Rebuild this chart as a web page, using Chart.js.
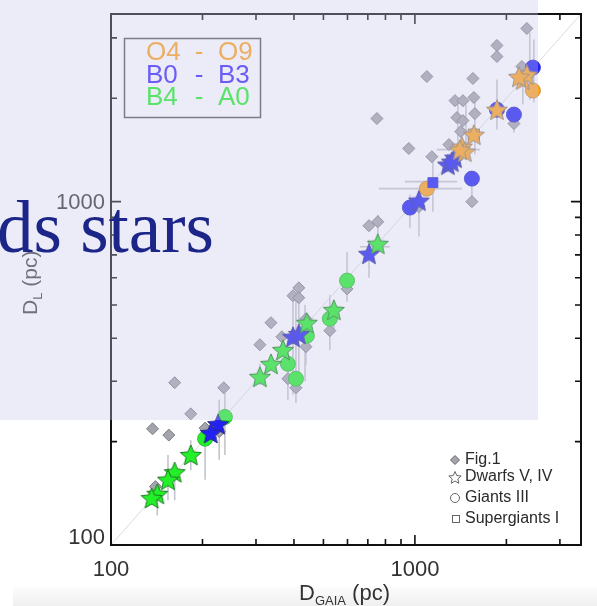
<!DOCTYPE html>
<html>
<head>
<meta charset="utf-8">
<script src="https://cdn.jsdelivr.net/npm/chart.js@4.4.1/dist/chart.umd.min.js"></script>
<style>
  html, body { margin: 0; padding: 0; background: #fff; }
  #wrap { position: relative; width: 597px; height: 606px; overflow: hidden; }
  #band { position: absolute; left: 13px; top: 586px; width: 584px; height: 20px; background: linear-gradient(#fdfdfd, #efefef); }
  #chart { position: absolute; left: 0; top: 0; }
  #veil { position: absolute; left: 0; top: 0; width: 538px; height: 420px; background: rgba(198, 198, 234, 0.34); }
  #headline { position: absolute; left: -3px; top: 191px; font: 73px "Liberation Serif", "DejaVu Serif", serif; line-height: 73px; color: #1c2588; white-space: nowrap; }
</style>
</head>
<body>
<div id="wrap">
  <div id="band"></div>
  <canvas id="chart" width="597" height="606"></canvas>
  <div id="veil"></div>
  <div id="headline">ds stars</div>
</div>
<script>
// axis range (pc) and ticks
const axisRange = [100, 3520];
const majorTicks = [100, 1000];
const minorTicks = [200, 300, 400, 500, 600, 700, 800, 900, 2000, 3000];

// [D_GAIA, D_L] pairs
const fig1 = [
    [2335, 3194], [1862, 2850], [1862, 2647], [1095, 2314], [1552, 2284], [2249, 2475],
    [750, 1746], [1355, 1969], [1439, 1969], [1563, 2011], [2118, 1688], [1375, 1757],
    [1439, 1722], [1575, 1805], [1416, 1600], [1294, 1466], [955, 1428], [1137, 1352],
    [1540, 1000], [1031, 967], [706, 851], [755, 874], [598, 557], [525, 421],
    [415, 561], [397, 532], [415, 525], [336, 444], [438, 456], [365, 404], [309, 383],
    [438, 378], [382, 305], [406, 287], [162, 297], [183, 241], [235, 287], [227, 214],
    [137, 218], [155, 209], [204, 219], [140, 148]
];
const orangeStars = [[2265, 2268], [2335, 2346], [2200, 2310], [1862, 1853], [1563, 1567], [1428, 1446], [1460, 1399], [1406, 1418]];
const orangeCircles = [[2444, 2107], [1095, 1091]];
const orangeSquares = [[1563, 1567]];
const blueStars = [[1284, 1282], [1355, 1344], [1323, 1308], [1031, 1007], [706, 705], [397, 404], [415, 412], [225, 225], [213, 212]];
const blueCircles = [[2444, 2458], [1862, 1853], [2118, 1793], [1540, 1167], [963, 961]];
const blueSquares = [[1146, 1136]];
const greenStars = [[755, 754], [541, 484], [441, 444], [368, 370], [336, 337], [309, 309], [183, 183], [162, 163], [154, 155], [142, 141], [136, 137]];
const greenCircles = [[598, 589], [525, 456], [441, 407], [382, 337], [406, 305], [237, 236], [204, 204]];

// error bars: vertical [x, lo, hi], horizontal [y, lo, hi]
const errY = [
    [2388, 1983, 3110], [2463, 1944, 2967], [2265, 1918, 2475], [1862, 1622, 2268], [2118, 1589, 1793],
    [1385, 1418, 1983], [1472, 1325, 1918], [1575, 1371, 2051],
    [1146, 935, 1325], [1031, 791, 1084], [963, 840, 1048], [1540, 980, 1167],
    [706, 600, 775], [755, 724, 916], [598, 511, 715], [525, 370, 535], [541, 423, 518],
    [397, 274, 518], [406, 259, 543], [415, 300, 560], [435, 300, 500], [438, 335, 453], [382, 265, 370], [309, 293, 337],
    [237, 183, 277], [227, 177, 265], [204, 155, 216], [162, 135, 165], [154, 135, 183], [142, 122, 150], [183, 165, 202]
];
const errX = [[1144, 927, 1375], [1091, 761, 1428], [1418, 1181, 1636], [739, 659, 827]];

const classRows = [["O4", "O9"], ["B0", "B3"], ["B4", "A0"]];
const typeLabels = ["Fig.1", "Dwarfs V, IV", "Giants III", "Supergiants I"];

const ORANGE = "#ffa31c";
const BLUE = "#2222f4";
const GREEN = "#22f028";

function toXY(list) {
    return list.map(p => ({ x: p[0], y: p[1] }));
}

function traceStar(g, cx, cy, r, ri) {
    g.beginPath();
    for (let i = 0; i < 10; i++) {
        const rad = i % 2 === 0 ? r : ri;
        const a = -Math.PI / 2 + i * Math.PI / 5;
        const px = cx + Math.cos(a) * rad;
        const py = cy + Math.sin(a) * rad;
        if (i === 0) g.moveTo(px, py); else g.lineTo(px, py);
    }
    g.closePath();
}

function starImage(r, fill, stroke) {
    const c = document.createElement("canvas");
    const s = Math.ceil(2 * r + 4);
    c.width = s; c.height = s;
    const g = c.getContext("2d");
    traceStar(g, s / 2, s / 2 + 1, r, r * 0.45);
    g.fillStyle = fill;
    g.fill();
    g.lineWidth = 1;
    g.strokeStyle = stroke;
    g.stroke();
    return c;
}

const frameAxes = {
    id: "frameAxes",
    beforeDatasetsDraw(chart) {
        const { ctx, scales: { x, y } } = chart;
        ctx.save();
        ctx.strokeStyle = "#c4c4cc";
        ctx.lineWidth = 1.6;
        errY.forEach(e => {
            const px = x.getPixelForValue(e[0]);
            ctx.beginPath();
            ctx.moveTo(px, y.getPixelForValue(e[1]));
            ctx.lineTo(px, y.getPixelForValue(e[2]));
            ctx.stroke();
        });
        errX.forEach(e => {
            const py = y.getPixelForValue(e[0]);
            ctx.beginPath();
            ctx.moveTo(x.getPixelForValue(e[1]), py);
            ctx.lineTo(x.getPixelForValue(e[2]), py);
            ctx.stroke();
        });
        ctx.restore();
    },
    afterDraw(chart) {
        const { ctx, chartArea: a, scales: { x, y } } = chart;
        ctx.save();
        ctx.strokeStyle = "#111";
        ctx.lineWidth = 2;
        ctx.strokeRect(a.left, a.top, a.right - a.left, a.bottom - a.top);

        ctx.lineWidth = 1.6;
        const tick = (v, len) => {
            const px = x.getPixelForValue(v);
            const py = y.getPixelForValue(v);
            ctx.beginPath();
            ctx.moveTo(px, a.bottom); ctx.lineTo(px, a.bottom - len);
            ctx.moveTo(px, a.top); ctx.lineTo(px, a.top + len);
            ctx.moveTo(a.left, py); ctx.lineTo(a.left + len, py);
            ctx.moveTo(a.right, py); ctx.lineTo(a.right - len, py);
            ctx.stroke();
        };
        majorTicks.forEach(v => tick(v, 10));
        minorTicks.forEach(v => tick(v, 6));

        // tick labels
        ctx.fillStyle = "#333";
        ctx.font = '22px "Liberation Sans", Arial, sans-serif';
        ctx.textAlign = "center";
        ctx.textBaseline = "alphabetic";
        majorTicks.forEach(v => ctx.fillText(String(v), x.getPixelForValue(v), 576));
        ctx.textAlign = "right";
        ctx.textBaseline = "middle";
        majorTicks.forEach(v => ctx.fillText(String(v), a.left - 6, Math.min(y.getPixelForValue(v) + 1, a.bottom - 7)));

        // axis titles with subscripts
        ctx.textAlign = "left";
        ctx.textBaseline = "alphabetic";
        let cx = 299;
        ctx.font = '22px "Liberation Sans", Arial, sans-serif';
        ctx.fillText("D", cx, 600); cx += ctx.measureText("D").width;
        ctx.font = '13px "Liberation Sans", Arial, sans-serif';
        ctx.fillText("GAIA", cx, 605); cx += ctx.measureText("GAIA").width;
        ctx.font = '22px "Liberation Sans", Arial, sans-serif';
        ctx.fillText(" (pc)", cx, 600);

        ctx.save();
        ctx.translate(37, 315);
        ctx.rotate(-Math.PI / 2);
        ctx.fillStyle = "#444";
        let ty = 0;
        ctx.font = '21px "Liberation Sans", Arial, sans-serif';
        ctx.fillText("D", ty, 0); ty += ctx.measureText("D").width;
        ctx.font = '13px "Liberation Sans", Arial, sans-serif';
        ctx.fillText("L", ty, 5); ty += ctx.measureText("L").width;
        ctx.font = '21px "Liberation Sans", Arial, sans-serif';
        ctx.fillText(" (pc)", ty, 0);
        ctx.restore();

        // spectral class legend (top left)
        ctx.strokeStyle = "#555";
        ctx.lineWidth = 1.5;
        ctx.strokeRect(124.5, 38.5, 136, 79);
        const rowColors = [ORANGE, "#3b25ff", GREEN];
        ctx.font = '26px "Liberation Sans", Arial, sans-serif';
        ctx.textBaseline = "middle";
        classRows.forEach((row, i) => {
            const ry = 53 + i * 22.5;
            ctx.fillStyle = rowColors[i];
            ctx.textAlign = "left";
            ctx.fillText(row[0], 146, ry);
            ctx.textAlign = "center";
            ctx.fillText("-", 199, ry);
            ctx.textAlign = "left";
            ctx.fillText(row[1], 218, ry);
        });

        // luminosity class legend (bottom right)
        const rowsY = [460, 477, 498, 519];
        ctx.font = '16px "Liberation Sans", Arial, sans-serif';
        ctx.fillStyle = "#2a2a2a";
        ctx.textAlign = "left";
        typeLabels.forEach((t, i) => ctx.fillText(t, 465, rowsY[i]));
        ctx.strokeStyle = "#666";
        ctx.lineWidth = 1;
        ctx.fillStyle = "#a4a4ac";
        ctx.beginPath();
        ctx.moveTo(455, rowsY[0] - 4.5); ctx.lineTo(459.5, rowsY[0]);
        ctx.lineTo(455, rowsY[0] + 4.5); ctx.lineTo(450.5, rowsY[0]);
        ctx.closePath(); ctx.fill(); ctx.stroke();
        traceStar(ctx, 455, rowsY[1] + 1, 6.5, 3);
        ctx.stroke();
        ctx.beginPath();
        ctx.arc(455, rowsY[2], 4.5, 0, Math.PI * 2);
        ctx.stroke();
        ctx.strokeRect(452.5, rowsY[3] - 3.5, 7, 7);
        ctx.restore();
    }
};

const starOrange = starImage(11, ORANGE, "#8a7a66");
const starBlue = starImage(11, BLUE, "#2a2a8a");
const starGreen = starImage(11, GREEN, "#1f7a22");

new Chart(document.getElementById("chart"), {
    type: "scatter",
    data: {
        datasets: [
            { type: "line", data: toXY([[axisRange[0], axisRange[0]], [axisRange[1], axisRange[1]]]), borderColor: "#dcdcdc", borderWidth: 1, pointRadius: 0, order: 50 },
            { data: toXY(fig1), pointStyle: "rectRot", pointRadius: 6, backgroundColor: "#a4a4ac", borderColor: "#7c7c84", borderWidth: 1, order: 40 },
            { data: toXY(blueCircles), pointStyle: "circle", pointRadius: 7.5, backgroundColor: BLUE, borderColor: "#2828c8", borderWidth: 1, order: 30 },
            { data: toXY(orangeCircles), pointStyle: "circle", pointRadius: 7.5, backgroundColor: ORANGE, borderColor: "#c88a30", borderWidth: 1, order: 30 },
            { data: toXY(greenCircles), pointStyle: "circle", pointRadius: 7.5, backgroundColor: GREEN, borderColor: "#30b838", borderWidth: 1, order: 30 },
            { data: toXY(blueSquares), pointStyle: "rect", pointRadius: 7, backgroundColor: BLUE, borderColor: "#2828c8", borderWidth: 1, order: 25 },
            { data: toXY(orangeSquares), pointStyle: "rect", pointRadius: 8, backgroundColor: ORANGE, borderColor: "#8a7a66", borderWidth: 1, order: 25 },
            { data: toXY(greenStars), pointStyle: starGreen, order: 10 },
            { data: toXY(blueStars), pointStyle: starBlue, order: 10 },
            { data: toXY(orangeStars), pointStyle: starOrange, order: 5 }
        ]
    },
    options: {
        responsive: false,
        animation: false,
        events: [],
        layout: { padding: { left: 111, top: 14, right: 16, bottom: 61 } },
        scales: {
            x: { type: "logarithmic", min: axisRange[0], max: axisRange[1], display: false },
            y: { type: "logarithmic", min: axisRange[0], max: axisRange[1], display: false }
        },
        plugins: { legend: { display: false }, tooltip: { enabled: false } }
    },
    plugins: [frameAxes]
});
</script>
</body>
</html>
